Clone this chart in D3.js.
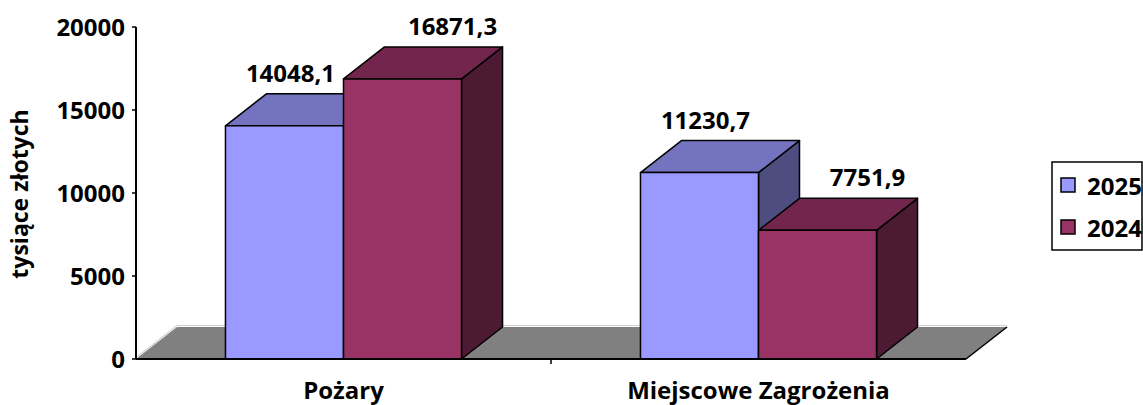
<!DOCTYPE html>
<html>
<head>
<meta charset="utf-8">
<script src="https://cdn.jsdelivr.net/npm/d3@7"></script>
<style>
  body { margin: 0; background: #fff; }
  svg text { font-family: "Open Sans", sans-serif; font-weight: 700; fill: #000; }
</style>
</head>
<body>
<svg id="chart" width="1143" height="405"></svg>
<script>
// data
const categories = ['Pożary', 'Miejscowe Zagrożenia'];
const seriesNames = ['2025', '2024'];
const values2025 = [14048.1, 11230.7];
const values2024 = [16871.3, 7751.9];
const yTicks = [0, 5000, 10000, 15000, 20000];
const yTitle = 'tysiące złotych';

const seriesValues = [values2025, values2024];
const colors = {
    '2025': {front: '#9999ff', top: '#7373bf', side: '#4d4d80'},
    '2024': {front: '#993366', top: '#73264d', side: '#4d1a33'}
};

let svg = d3.select('#chart');
let depthX = 41, depthY = -32;   // 3d offset of the bars and floor
let plotLeft = 136, plotRight = 966, plotTop = 27, plotBottom = 359;

let yScale = d3.scaleLinear().domain([0, 20000]).range([plotBottom, plotTop]);
let x0 = d3.scaleBand().domain(categories).range([plotLeft, plotRight]);
let x1 = d3.scaleBand().domain(seriesNames).range([0, x0.bandwidth()]).paddingOuter(0.758);

let pl = d3.formatLocale({decimal: ',', thousands: '', grouping: [3], currency: ['', '']});
let fmt = pl.format('.1f');

// floor
let y0 = yScale(0);
svg.append('polygon')
    .attr('points', [[plotLeft, y0], [plotLeft + depthX, y0 + depthY],
                     [plotRight + depthX, y0 + depthY], [plotRight, y0]].join(' '))
    .attr('fill', '#808080');
svg.append('polyline')
    .attr('points', [[plotLeft + 1, y0 - 2], [plotLeft + depthX, y0 + depthY - 1.5],
                     [plotRight + depthX, y0 + depthY - 1.5]].join(' '))
    .attr('fill', 'none')
    .attr('stroke', '#d0d0d0')
    .attr('stroke-width', 1.2);
svg.append('line')
    .attr('x1', plotRight).attr('y1', y0)
    .attr('x2', plotRight + depthX).attr('y2', y0 + depthY)
    .attr('stroke', '#000').attr('stroke-width', 1.5);

// bars
categories.forEach(function(cat, ci) {
    seriesNames.forEach(function(s, si) {
        let v = seriesValues[si][ci];
        let x = x0(cat) + x1(s);
        let w = x1.bandwidth();
        let yt = yScale(v);
        let g = svg.append('g').attr('class', 'bar');
        let c = colors[s];
        g.append('polygon')
            .attr('points', [[x + w, yt], [x + w + depthX, yt + depthY],
                             [x + w + depthX, y0 + depthY], [x + w, y0]].join(' '))
            .attr('fill', c.side);
        g.append('polygon')
            .attr('points', [[x, yt], [x + depthX, yt + depthY],
                             [x + w + depthX, yt + depthY], [x + w, yt]].join(' '))
            .attr('fill', c.top);
        g.append('rect')
            .attr('x', x).attr('y', yt)
            .attr('width', w).attr('height', y0 - yt)
            .attr('fill', c.front);
        g.selectAll('polygon, rect')
            .attr('stroke', '#000')
            .attr('stroke-width', 1.5)
            .attr('stroke-linejoin', 'round');
    });
});

// value labels
categories.forEach(function(cat, ci) {
    seriesNames.forEach(function(s, si) {
        let v = seriesValues[si][ci];
        let off = si === 0 ? 6 : 50;
        svg.append('text')
            .attr('x', x0(cat) + x1(s) + x1.bandwidth() / 2 + off)
            .attr('y', yScale(v) - 44)
            .attr('text-anchor', 'middle')
            .style('font-size', '24px')
            .text(fmt(v));
    });
});

// y axis
svg.append('line')
    .attr('x1', plotLeft).attr('y1', plotTop)
    .attr('x2', plotLeft).attr('y2', y0)
    .attr('stroke', '#000').attr('stroke-width', 2);
svg.selectAll('line.ytick')
    .data(yTicks).enter().append('line')
    .attr('class', 'ytick')
    .attr('x1', plotLeft - 4).attr('x2', plotLeft)
    .attr('y1', d => yScale(d)).attr('y2', d => yScale(d))
    .attr('stroke', '#000').attr('stroke-width', 1.5);
svg.selectAll('text.ylab')
    .data(yTicks).enter().append('text')
    .attr('class', 'ylab')
    .attr('x', plotLeft - 11)
    .attr('y', d => yScale(d))
    .attr('dy', '0.36em')
    .attr('text-anchor', 'end')
    .style('font-size', '24px')
    .text(d => d);

svg.append('text')
    .attr('transform', 'translate(28,' + (yScale(10000) + 1) + ') rotate(-90)')
    .attr('text-anchor', 'middle')
    .style('font-size', '23px')
    .text(yTitle);

// x axis
svg.append('line')
    .attr('x1', plotLeft).attr('y1', y0)
    .attr('x2', plotRight).attr('y2', y0)
    .attr('stroke', '#000').attr('stroke-width', 2);
svg.selectAll('line.xtick')
    .data(categories.slice(1)).enter().append('line')
    .attr('class', 'xtick')
    .attr('x1', d => x0(d)).attr('x2', d => x0(d))
    .attr('y1', y0).attr('y2', y0 + 5)
    .attr('stroke', '#000').attr('stroke-width', 1.5);
svg.selectAll('text.xlab')
    .data(categories).enter().append('text')
    .attr('class', 'xlab')
    .attr('x', d => x0(d) + x0.bandwidth() / 2)
    .attr('y', 399)
    .attr('text-anchor', 'middle')
    .style('font-size', '24px')
    .text(d => d);

// legend
let lg = svg.append('g').attr('transform', 'translate(1052,162)');
lg.append('rect')
    .attr('width', 90).attr('height', 88)
    .attr('fill', '#fff').attr('stroke', '#000').attr('stroke-width', 1.5);
seriesNames.forEach(function(s, i) {
    lg.append('rect')
        .attr('x', 9).attr('y', 16 + i * 42)
        .attr('width', 14).attr('height', 14)
        .attr('fill', colors[s].front)
        .attr('stroke', '#000').attr('stroke-width', 1.5);
    lg.append('text')
        .attr('x', 35).attr('y', 33 + i * 42)
        .style('font-size', '24px')
        .text(s);
});
</script>
</body>
</html>
